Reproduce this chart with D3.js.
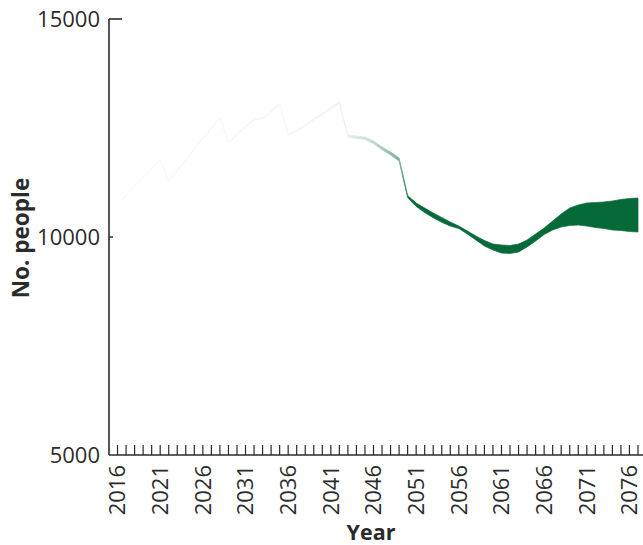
<!DOCTYPE html>
<html>
<head>
<meta charset="utf-8">
<script src="https://cdn.jsdelivr.net/npm/d3@7"></script>
<style>
  html, body { margin: 0; padding: 0; background: #fff; }
  svg { display: block; }
</style>
</head>
<body>
<svg id="chart" width="643" height="545"></svg>
<script>
// Projected population, lower and upper bounds per year
const years = d3.range(2016, 2078);
const upper = [
  10757, 10959, 11161, 11362, 11564, 11766, 11284, 11530, 11775, 12021,
  12266, 12512, 12752, 12179, 12362, 12546, 12706, 12741, 12890, 13073,
  12362, 12454, 12580, 12718, 12844, 12982, 13108, 12340, 12317, 12294,
  12202, 12064, 11950, 11812, 10952, 10780, 10665, 10551, 10447, 10344,
  10252, 10138, 10023, 9920, 9839, 9817, 9805, 9839, 9931, 10069,
  10206, 10367, 10528, 10665, 10734, 10780, 10791, 10803, 10826, 10860,
  10883, 10895
];
const lower = [
  10757, 10957, 11157, 11356, 11556, 11756, 11272, 11516, 11759, 12003,
  12246, 12490, 12728, 12153, 12334, 12516, 12674, 12707, 12854, 13035,
  12322, 12412, 12536, 12672, 12796, 12932, 13056, 12286, 12261, 12236,
  12142, 12000, 11882, 11740, 10900, 10700, 10560, 10440, 10336, 10250,
  10195, 10069, 9931, 9794, 9702, 9633, 9622, 9656, 9771, 9908,
  10057, 10161, 10229, 10264, 10275, 10252, 10218, 10195, 10161, 10149,
  10126, 10115
];
const yTicks = [5000, 10000, 15000];
const xLabelYears = [2016, 2021, 2026, 2031, 2036, 2041, 2046, 2051, 2056, 2061, 2066, 2071, 2076];

const data = years.map((yr, i) => ({ year: yr, lo: lower[i], hi: upper[i] }));

const svg = d3.select("#chart");
const x = d3.scaleLinear().domain([2015, 2077]).range([109, 638]);
const y = d3.scaleLinear().domain([5000, 15000]).range([455, 19]);

const font = "'Open Sans', sans-serif";
const ink = "#2b2b2b";

// Fill fades in as the projection band widens
const defs = svg.append("defs");
const grad = defs.append("linearGradient")
  .attr("id", "bandFill")
  .attr("gradientUnits", "userSpaceOnUse")
  .attr("x1", x(2016)).attr("x2", x(2077))
  .attr("y1", 0).attr("y2", 0);
const stops = [
  [2016, "#f7f7f7"], [2041, "#f4f6f5"], [2043, "#e8efea"],
  [2046, "#c2dacb"], [2049, "#7cb094"], [2050.3, "#066a38"], [2077, "#066a38"]
];
stops.forEach(([yr, c]) => {
  grad.append("stop")
    .attr("offset", (x(yr) - x(2016)) / (x(2077) - x(2016)))
    .attr("stop-color", c);
});

const area = d3.area()
  .x(d => x(d.year))
  .y0(d => y(d.lo))
  .y1(d => y(d.hi))
  .curve(d3.curveLinear);

svg.append("path")
  .datum(data)
  .attr("d", area)
  .attr("fill", "url(#bandFill)")
  .attr("stroke", "url(#bandFill)")
  .attr("stroke-width", 0.7)
  .attr("stroke-linejoin", "round");

// Y axis
const yAxis = svg.append("g");
yAxis.append("line")
  .attr("x1", x(2015)).attr("x2", x(2015))
  .attr("y1", y(15000)).attr("y2", y(5000))
  .attr("stroke", ink).attr("stroke-width", 1.6);
yAxis.append("line")
  .attr("x1", x(2015)).attr("x2", x(2015) + 13)
  .attr("y1", y(15000)).attr("y2", y(15000))
  .attr("stroke", ink).attr("stroke-width", 1.6);
yAxis.selectAll("line.tk")
  .data(yTicks.filter(v => v !== 15000 && v !== 5000))
  .join("line").attr("class", "tk")
  .attr("x1", x(2015)).attr("x2", x(2015) + 4)
  .attr("y1", d => y(d)).attr("y2", d => y(d))
  .attr("stroke", ink).attr("stroke-width", 1.4);
yAxis.selectAll("text")
  .data(yTicks)
  .join("text")
  .attr("x", 100)
  .attr("y", d => y(d))
  .attr("dy", "0.36em")
  .attr("text-anchor", "end")
  .attr("font-family", font)
  .attr("font-size", 22)
  .attr("fill", ink)
  .text(d => d);

// X axis
const xAxis = svg.append("g");
xAxis.append("line")
  .attr("x1", x(2015)).attr("x2", 643)
  .attr("y1", y(5000)).attr("y2", y(5000))
  .attr("stroke", ink).attr("stroke-width", 1.6);
xAxis.selectAll("line.tk")
  .data(years)
  .join("line").attr("class", "tk")
  .attr("x1", d => x(d)).attr("x2", d => x(d))
  .attr("y1", y(5000)).attr("y2", y(5000) - 10)
  .attr("stroke", ink).attr("stroke-width", 1.2);
xAxis.selectAll("text")
  .data(xLabelYears)
  .join("text")
  .attr("transform", d => `translate(${x(d)},${y(5000) + 10}) rotate(-90)`)
  .attr("dy", "0.36em")
  .attr("text-anchor", "end")
  .attr("font-family", font)
  .attr("font-size", 22)
  .attr("fill", ink)
  .text(d => d);

// Axis titles
svg.append("text")
  .attr("transform", "translate(29,238) rotate(-90)")
  .attr("text-anchor", "middle")
  .attr("font-family", font)
  .attr("font-weight", "bold")
  .attr("font-size", 22.5)
  .attr("fill", ink)
  .text("No. people");
svg.append("text")
  .attr("x", 371)
  .attr("y", 540)
  .attr("text-anchor", "middle")
  .attr("font-family", font)
  .attr("font-weight", "bold")
  .attr("font-size", 21.5)
  .attr("fill", ink)
  .text("Year");
</script>
</body>
</html>
